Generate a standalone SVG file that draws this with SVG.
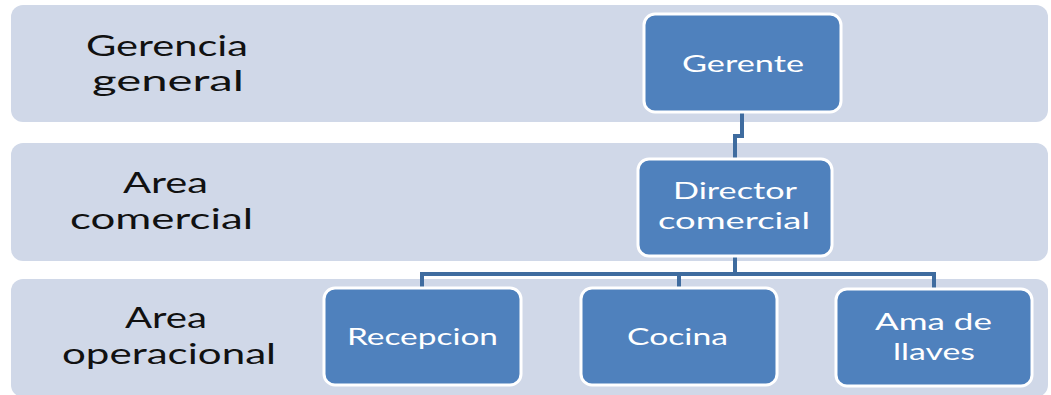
<svg xmlns="http://www.w3.org/2000/svg" width="1051" height="395" viewBox="0 0 1051 395">
<style>
.band{fill:#d0d8e8}
.node{fill:#4f81bd;stroke:#ffffff;stroke-width:3}
.lbl{font-family:Lato,"Open Sans","Liberation Sans",sans-serif;font-size:29px;fill:#111111;text-anchor:middle}
.nt{font-family:Lato,"Open Sans","Liberation Sans",sans-serif;font-size:23.5px;fill:#ffffff;text-anchor:middle}
.conn{fill:none;stroke:#3f6c9f;stroke-width:4}
</style>
<rect width="1051" height="395" fill="#ffffff"/>
<g id="bands">
<rect class="band" x="11" y="5" width="1037" height="117" rx="12"/>
<rect class="band" x="11" y="143" width="1037" height="118" rx="12"/>
<rect class="band" x="11" y="279" width="1037" height="118" rx="12"/>
<text class="lbl" x="167" y="56" textLength="162" lengthAdjust="spacingAndGlyphs">Gerencia</text>
<text class="lbl" x="168" y="91" textLength="152" lengthAdjust="spacingAndGlyphs">general</text>
<text class="lbl" x="165.5" y="193" textLength="85" lengthAdjust="spacingAndGlyphs">Area</text>
<text class="lbl" x="161.5" y="229" textLength="183" lengthAdjust="spacingAndGlyphs">comercial</text>
<text class="lbl" x="166" y="328" textLength="82" lengthAdjust="spacingAndGlyphs">Area</text>
<text class="lbl" x="169" y="364" textLength="214" lengthAdjust="spacingAndGlyphs">operacional</text>
</g>
<g id="connectors">
<path class="conn" d="M742,113 V136 H735 V158"/>
<path class="conn" d="M735,256 V274 H422 V287"/>
<path class="conn" d="M735,274 H934 V288"/>
<path class="conn" d="M679,274 V288"/>
</g>
<g id="gerente">
<rect class="node" x="644" y="14" width="197" height="98" rx="11"/>
<text class="nt" x="743" y="72" textLength="122" lengthAdjust="spacingAndGlyphs">Gerente</text>
</g>
<g id="director">
<rect class="node" x="638" y="159" width="194" height="97" rx="11"/>
<text class="nt" x="735" y="199" textLength="124" lengthAdjust="spacingAndGlyphs">Director</text>
<text class="nt" x="734" y="229" textLength="152" lengthAdjust="spacingAndGlyphs">comercial</text>
</g>
<g id="recepcion">
<rect class="node" x="324" y="288" width="197" height="97" rx="11"/>
<text class="nt" x="422.5" y="345" textLength="151" lengthAdjust="spacingAndGlyphs">Recepcion</text>
</g>
<g id="cocina">
<rect class="node" x="581" y="288" width="196" height="97" rx="11"/>
<text class="nt" x="677.5" y="345" textLength="101" lengthAdjust="spacingAndGlyphs">Cocina</text>
</g>
<g id="ama">
<rect class="node" x="836" y="289" width="196" height="97" rx="11"/>
<text class="nt" x="933.5" y="330" textLength="117" lengthAdjust="spacingAndGlyphs">Ama de</text>
<text class="nt" x="934" y="360" textLength="82" lengthAdjust="spacingAndGlyphs">llaves</text>
</g>
</svg>
